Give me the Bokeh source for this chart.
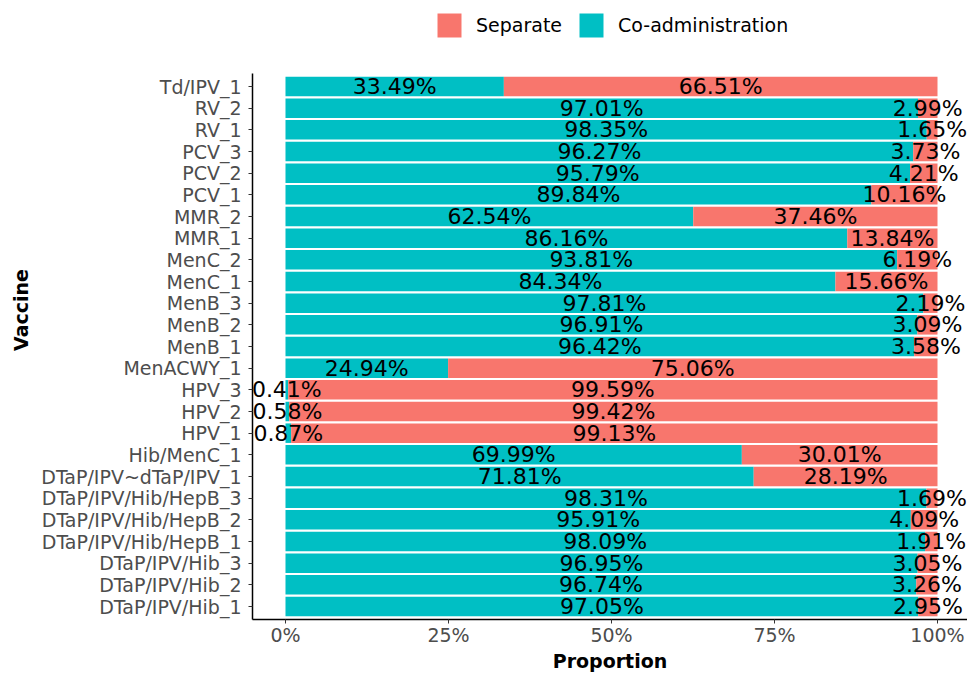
from bokeh.plotting import figure
from bokeh.models import ColumnDataSource, Range1d, FixedTicker, NumeralTickFormatter, Legend, LegendItem
from bokeh.core.properties import value
from bokeh.embed import file_html
from bokeh.resources import INLINE

# categories listed top to bottom
vaccines = ["Td/IPV_1", "RV_2", "RV_1", "PCV_3", "PCV_2", "PCV_1", "MMR_2", "MMR_1",
            "MenC_2", "MenC_1", "MenB_3", "MenB_2", "MenB_1", "MenACWY_1",
            "HPV_3", "HPV_2", "HPV_1", "Hib/MenC_1", "DTaP/IPV~dTaP/IPV_1",
            "DTaP/IPV/Hib/HepB_3", "DTaP/IPV/Hib/HepB_2", "DTaP/IPV/Hib/HepB_1",
            "DTaP/IPV/Hib_3", "DTaP/IPV/Hib_2", "DTaP/IPV/Hib_1"]
co_admin = [33.49, 97.01, 98.35, 96.27, 95.79, 89.84, 62.54, 86.16, 93.81, 84.34,
            97.81, 96.91, 96.42, 24.94, 0.41, 0.58, 0.87, 69.99, 71.81,
            98.31, 95.91, 98.09, 96.95, 96.74, 97.05]
separate = [66.51, 2.99, 1.65, 3.73, 4.21, 10.16, 37.46, 13.84, 6.19, 15.66,
            2.19, 3.09, 3.58, 75.06, 99.59, 99.42, 99.13, 30.01, 28.19,
            1.69, 4.09, 1.91, 3.05, 3.26, 2.95]
series_names = ["Separate", "Co-administration"]

TEAL = "#00BFC4"
RED = "#F8766D"
FONT = "DejaVu Sans"

n = len(vaccines)
ypos = [n - i for i in range(n)]
co = [v / 100 for v in co_admin]
sep = [v / 100 for v in separate]

src = ColumnDataSource(dict(
    y=ypos, co=co, sep=sep,
    co_x=[c / 2 for c in co],
    sep_x=[c + s / 2 for c, s in zip(co, sep)],
    co_lab=[f"{v:.2f}%" for v in co_admin],
    sep_lab=[f"{v:.2f}%" for v in separate],
))

y_lo, y_hi = 0.4, n + 0.6
# frame extends above the bars so that the legend can sit inside it
p = figure(width=967, height=674, output_backend="svg", toolbar_location=None,
           x_range=Range1d(-0.0506, 1.046), y_range=Range1d(y_lo, y_hi + 3.37),
           min_border_left=252, min_border_right=0, min_border_top=0, min_border_bottom=55)
p.outline_line_color = None
p.xgrid.visible = False
p.ygrid.visible = False

r_co, r_sep = p.hbar_stack(["co", "sep"], y="y", height=0.9, color=[TEAL, RED],
                           line_color=None, source=src)

p.text(x="co_x", y="y", text="co_lab", source=src, text_align="center",
       text_baseline="middle", text_font=value(FONT), text_font_size="22px", text_color="black")
p.text(x="sep_x", y="y", text="sep_lab", source=src, text_align="center",
       text_baseline="middle", text_font=value(FONT), text_font_size="22px", text_color="black")

# axes
p.xaxis.ticker = FixedTicker(ticks=[0, 0.25, 0.5, 0.75, 1.0])
p.xaxis.formatter = NumeralTickFormatter(format="0%")
p.yaxis.ticker = FixedTicker(ticks=ypos)
p.yaxis.major_label_overrides = {y: name for y, name in zip(ypos, vaccines)}
p.yaxis.bounds = (y_lo, y_hi)
for ax in (p.xaxis[0], p.yaxis[0]):
    ax.axis_line_color = "black"
    ax.axis_line_width = 1.5
    ax.major_tick_line_color = "#333333"
    ax.major_tick_in = 0
    ax.major_tick_out = 4
    ax.minor_tick_line_color = None
    ax.major_label_text_font = FONT
    ax.major_label_text_font_size = "19px"
    ax.major_label_text_color = "#4D4D4D"
    ax.axis_label_text_font = FONT
    ax.axis_label_text_font_style = "bold"
    ax.axis_label_text_font_size = "19px"
    ax.axis_label_text_color = "black"
p.xaxis.axis_label = "Proportion"
p.yaxis.axis_label = "Vaccine"
p.yaxis.major_label_standoff = 7
p.xaxis.major_label_standoff = 0
p.yaxis.axis_label_standoff = 6
p.xaxis.axis_label_standoff = 1

legend = Legend(items=[LegendItem(label=series_names[0], renderers=[r_sep]),
                       LegendItem(label=series_names[1], renderers=[r_co])],
                orientation="horizontal", location=(182, 579),
                glyph_width=30, glyph_height=30, label_standoff=12, spacing=14,
                padding=0, margin=0, border_line_color=None, background_fill_alpha=0,
                label_text_font=FONT, label_text_font_size="19px", label_height=30,
                label_text_color="black")
p.add_layout(legend)

open("out.html", "w").write(file_html(p, INLINE))
